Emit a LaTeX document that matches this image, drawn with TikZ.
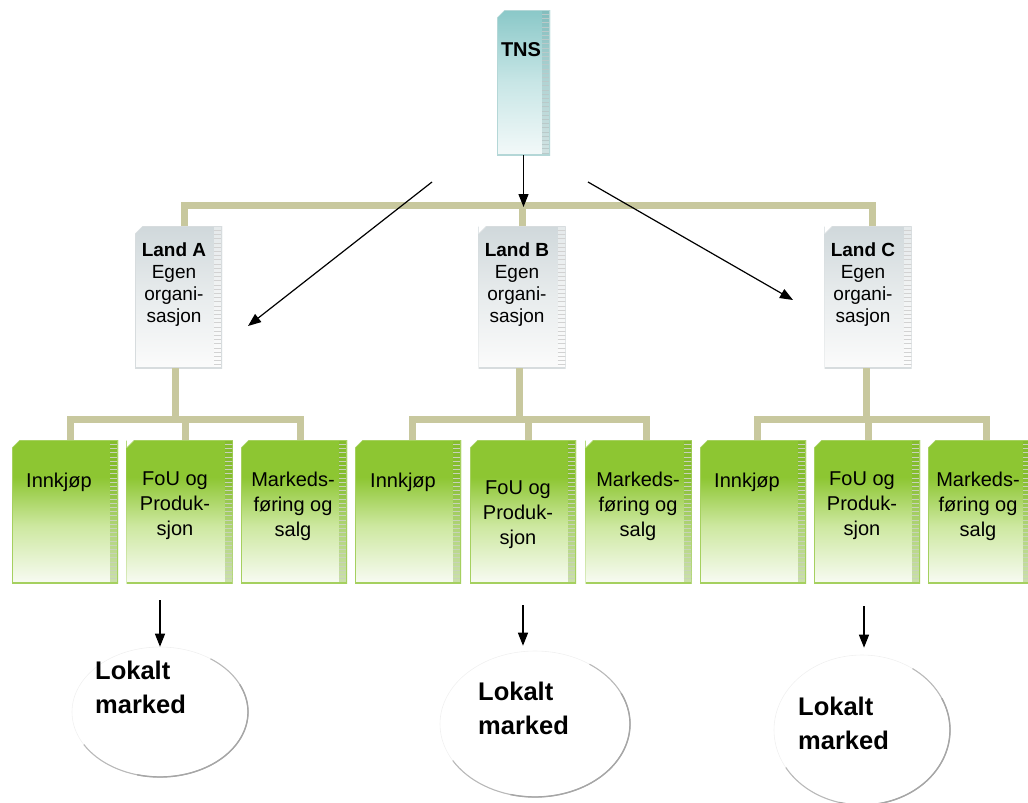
\documentclass[tikz,border=0pt]{standalone}
\usepackage{fontspec}
\setmainfont{Liberation Sans}
\usetikzlibrary{arrows.meta,shapes.geometric}

\definecolor{barcol}{RGB}{200,200,158}
\definecolor{gtop}{RGB}{141,198,50}
\definecolor{gmid}{RGB}{205,232,160}
\definecolor{gbot}{RGB}{248,251,243}
\definecolor{gside}{RGB}{120,175,40}
\definecolor{gborder}{RGB}{165,208,95}
\definecolor{ltop}{RGB}{208,216,219}
\definecolor{lmid}{RGB}{232,236,237}
\definecolor{lbot}{RGB}{251,251,251}
\definecolor{lborder}{RGB}{215,220,222}
\definecolor{ttop}{RGB}{138,200,200}
\definecolor{tmid}{RGB}{200,230,230}
\definecolor{tbot}{RGB}{243,249,249}
\definecolor{tborder}{RGB}{180,215,215}

\pgfdeclareverticalshading{greenbox}{100bp}{color(0bp)=(gbot); color(25bp)=(gbot); color(45bp)=(gmid); color(62bp)=(gtop); color(75bp)=(gtop); color(100bp)=(gtop)}
\pgfdeclareverticalshading{landbox}{100bp}{color(0bp)=(lbot); color(25bp)=(lbot); color(50bp)=(lmid); color(75bp)=(ltop); color(100bp)=(ltop)}
\pgfdeclareverticalshading{tnsbox}{100bp}{color(0bp)=(tbot); color(25bp)=(tbot); color(50bp)=(tmid); color(75bp)=(ttop); color(100bp)=(ttop)}

\newcommand{\mysidestrip}[3]{%
  \fill[#1,opacity=#2] ([xshift=-8pt]path picture bounding box.north east) rectangle (path picture bounding box.south east);
  \foreach \k in {1,...,35}{\draw[#3,line width=0.4pt] ([xshift=-8pt,yshift=-\k*4.2pt]path picture bounding box.north east) -- ++(8,0);}
}
\newcommand{\mybevel}[1]{%
  \fill[white] (path picture bounding box.north west) -- ([xshift=8pt]path picture bounding box.north west) -- ([yshift=-8pt]path picture bounding box.north west) -- cycle;
  \draw[#1, line width=1.3pt] ([yshift=-8pt]path picture bounding box.north west) -- (path picture bounding box.south west) -- (path picture bounding box.south east) -- (path picture bounding box.north east) -- ([xshift=8pt]path picture bounding box.north west);
  \draw[#1, line width=0.65pt] ([yshift=-8pt]path picture bounding box.north west) -- ([xshift=8pt]path picture bounding box.north west);
}

\tikzset{
  cbox/.style={rectangle, draw=none, inner sep=0pt},
  gbox/.style={cbox, shade, shading=greenbox, minimum width=106pt, minimum height=143pt,
    path picture={\mysidestrip{gside}{0.35}{gside!60!black!30}\mybevel{gborder}}},
  lbox/.style={cbox, shade, shading=landbox, minimum width=87pt, minimum height=142pt,
    path picture={\mysidestrip{white}{0.45}{gray!35}\mybevel{lborder}}},
  tbox/.style={cbox, shade, shading=tnsbox, minimum width=53pt, minimum height=145pt,
    path picture={\mysidestrip{ttop!80!black}{0.25}{ttop!60!black!40}\mybevel{tborder}}},
  bar/.style={draw=barcol, line width=7pt, line join=miter},
  arr/.style={line width=1.3pt, -{Triangle[length=13pt,width=10pt]}},
  ltxt/.style={inner sep=0pt, align=center, font=\fontsize{19}{22}\selectfont},
  gtxt/.style={inner sep=0pt, align=center, font=\fontsize{20}{25}\selectfont},
  mtxt/.style={inner sep=0pt, align=left, font=\fontsize{25.5}{34}\selectfont\bfseries},
  mkt/.style={ellipse, inner sep=0pt, draw=gray!12, line width=0.6pt},
  shadowline/.style={draw=gray!55, line width=1.1pt},
  shadowdark/.style={draw=gray!70, line width=1.4pt}
}

\begin{document}
\begin{tikzpicture}[x=1pt,y=-1pt]
\useasboundingbox (0,0) rectangle (1028,803);

% ---------- boxes ----------
\node[tbox] (tns) at (523.5,82.5) {};
\node[lbox] (landA) at (178.5,297) {};
\node[lbox] (landB) at (522,297) {};
\node[lbox] (landC) at (868,297) {};

\node[gbox] (innA) at (65,511.5) {};
\node[gbox] (fouA) at (179.5,511.5) {};
\node[gbox] (mkA) at (294,511.5) {};
\node[gbox] (innB) at (408,511.5) {};
\node[gbox] (fouB) at (523,511.5) {};
\node[gbox] (mkB) at (638.5,511.5) {};
\node[gbox] (innC) at (753,511.5) {};
\node[gbox] (fouC) at (867,511.5) {};
\node[gbox, minimum width=103pt] (mkC) at (979.5,511.5) {};

% ---------- bars ----------
\draw[bar] ([xshift=5.5pt]landA.north) -- ++(0,-20.5) -| ([xshift=4pt]landC.north);
\draw[bar] (landB.north) -- ++(0,-20.5);

\draw[bar] ([xshift=5pt]innA.north) -- ++(0,-20) -| ([xshift=6pt]mkA.north);
\draw[bar] ([xshift=-3.5pt]landA.south) -- ++(0,52);
\draw[bar] ([xshift=5.5pt]fouA.north) -- ++(0,-20);

\draw[bar] ([xshift=4pt]innB.north) -- ++(0,-20) -| ([xshift=7.5pt]mkB.north);
\draw[bar] ([xshift=-3pt]landB.south) -- ++(0,52);
\draw[bar] ([xshift=5pt]fouB.north) -- ++(0,-20);

\draw[bar] ([xshift=4pt]innC.north) -- ++(0,-20) -| ([xshift=7pt]mkC.north);
\draw[bar] ([xshift=-2pt]landC.south) -- ++(0,52);
\draw[bar] ([xshift=1pt]fouC.north) -- ++(0,-20);

% ---------- texts ----------
\node[inner sep=0pt, anchor=base, font=\fontsize{20}{24}\selectfont\bfseries] (tnsT) at (521,56) {TNS};

\node[ltxt, anchor=north] (landAT) at (174,243) {\textbf{Land A}\\Egen\\organi-\\sasjon};
\node[ltxt, anchor=north] (landBT) at (517,243) {\textbf{Land B}\\Egen\\organi-\\sasjon};
\node[ltxt, anchor=north] (landCT) at (863,243) {\textbf{Land C}\\Egen\\organi-\\sasjon};

\node[gtxt, anchor=base west] (innAT) at (26,487) {Innkjøp};
\node[gtxt, anchor=base west] (innBT) at (370,487) {Innkjøp};
\node[gtxt, anchor=base west] (innCT) at (714,487) {Innkjøp};

\node[gtxt, anchor=north] (fouAT) at (175,472) {FoU og\\Produk-\\sjon};
\node[gtxt, anchor=north] (fouBT) at (518,481) {FoU og\\Produk-\\sjon};
\node[gtxt, anchor=north] (fouCT) at (862,472) {FoU og\\Produk-\\sjon};

\node[gtxt, anchor=north] (mkAT) at (293,472) {Markeds-\\føring og\\salg};
\node[gtxt, anchor=north] (mkBT) at (638,472) {Markeds-\\føring og\\salg};
\node[gtxt, anchor=north] (mkCT) at (978,472) {Markeds-\\føring og\\salg};

% ---------- markets ----------
\node[mkt, minimum width=176pt, minimum height=130pt] (ellA) at (160,712) {};
\node[mkt, minimum width=190pt, minimum height=146pt] (ellB) at (535,724) {};
\node[mkt, minimum width=176pt, minimum height=150pt] (ellC) at (862,730) {};

\draw[shadowline] ([shift={(-55:88 and 65)}]ellA.center) arc[start angle=-55, end angle=150, x radius=88, y radius=65];
\draw[shadowdark] ([shift={(-25:88 and 65)}]ellA.center) arc[start angle=-25, end angle=105, x radius=88, y radius=65];
\draw[shadowline] ([shift={(-55:95 and 73)}]ellB.center) arc[start angle=-55, end angle=150, x radius=95, y radius=73];
\draw[shadowdark] ([shift={(-25:95 and 73)}]ellB.center) arc[start angle=-25, end angle=105, x radius=95, y radius=73];
\draw[shadowline] ([shift={(-55:88 and 75)}]ellC.center) arc[start angle=-55, end angle=150, x radius=88, y radius=75];
\draw[shadowdark] ([shift={(-25:88 and 75)}]ellC.center) arc[start angle=-25, end angle=105, x radius=88, y radius=75];

\node[mtxt, anchor=north west] (ellAT) at (95,660.6) {Lokalt\\marked};
\node[mtxt, anchor=north west] (ellBT) at (478,681.6) {Lokalt\\marked};
\node[mtxt, anchor=north west] (ellCT) at (798,696.6) {Lokalt\\marked};

% ---------- arrows ----------
\coordinate (hub) at (523,207);
\draw[arr] (tns.south) -- (tns.south |- hub);

\coordinate (dl1) at (432,182);
\coordinate (dl2) at (248,326);
\coordinate (dr1) at (588,182);
\coordinate (dr2) at (793,300);
\draw[arr, line width=1.2pt] (dl1) -- (dl2);
\draw[arr, line width=1.2pt] (dr1) -- (dr2);

\coordinate (dA) at (160,600);
\coordinate (dB) at (523,605);
\coordinate (dC) at (864,606);
\draw[arr] (dA) -- (dA |- ellA.north);
\draw[arr, shorten >=5pt] (dB) -- (dB |- ellB.north);
\draw[arr, shorten >=7pt] (dC) -- (dC |- ellC.north);
\end{tikzpicture}
\end{document}
